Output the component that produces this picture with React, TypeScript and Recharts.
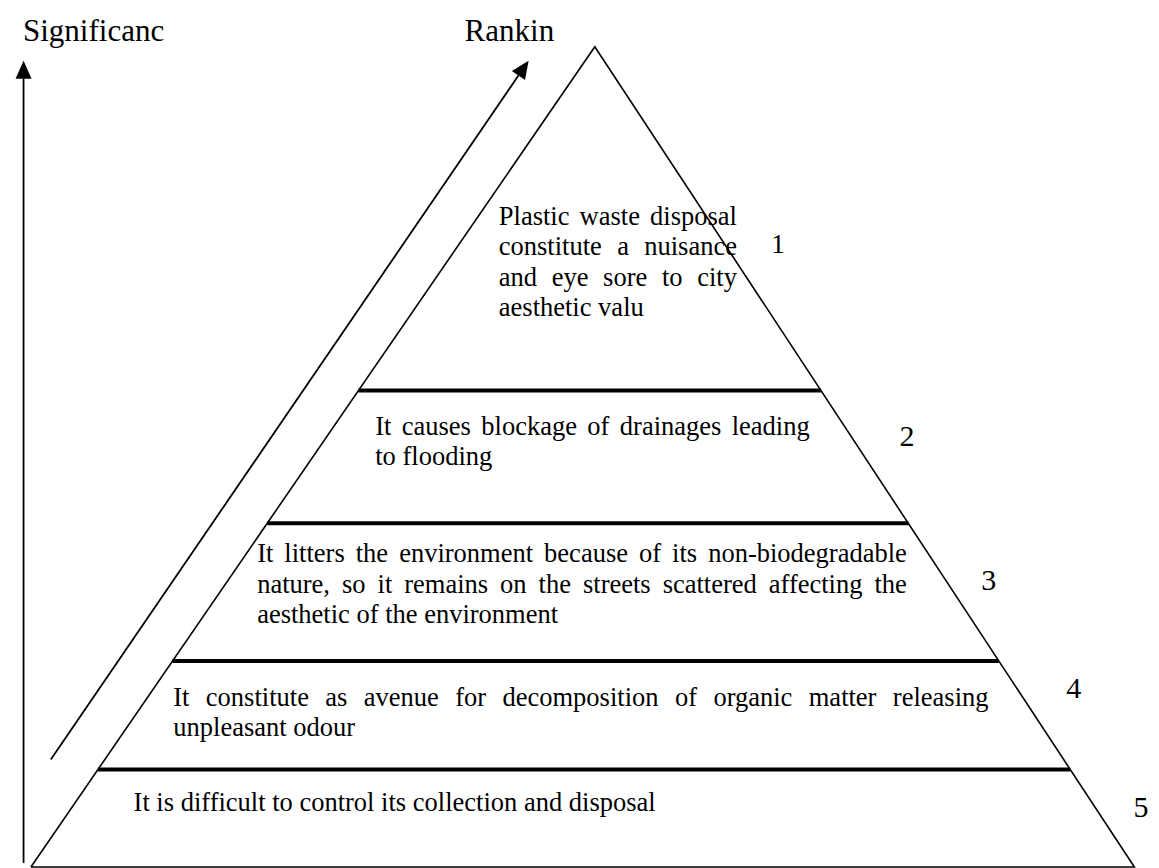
import React from 'react';
import { ComposedChart, XAxis, YAxis, Line, Scatter, ReferenceLine, ReferenceArea } from 'recharts';

// ranking of the effects of plastic waste (1 = most significant, at the top)
const ranks = [1, 2, 3, 4, 5];

const statements = [
  ['Plastic waste disposal', 'constitute a nuisance', 'and eye sore to city', 'aesthetic valu'],
  ['It causes blockage of drainages leading', 'to flooding'],
  [
    'It litters the environment because of its non-biodegradable',
    'nature, so it remains on the streets scattered affecting the',
    'aesthetic of the environment',
  ],
  ['It constitute as avenue for decomposition of organic matter releasing', 'unpleasant odour'],
  ['It is difficult to control its collection and disposal'],
];

const axisTitles = ['Significanc', 'Rankin'];

// pyramid on a 0..100 grid: base from x=0 to x=100 at height 0, apex at height 100
const apexX = 51.1;
const bandEdges = [58.1, 41.9, 25.1, 11.9];

// --- layout (chart units) ---
const textBoxes = [
  { x1: 42.4, x2: 63.8, top: 81.2, bottom: 66.4 },
  { x1: 31.2, x2: 70.4, top: 55.6, bottom: 48.2 },
  { x1: 20.5, x2: 79.2, top: 40.1, bottom: 29.0 },
  { x1: 12.9, x2: 86.6, top: 22.6, bottom: 15.2 },
  { x1: 9.3, x2: 87.4, top: 9.8, bottom: 6.1 },
];
const rankSpots = [
  { x: 67.7, y: 74.9, size: 27 },
  { x: 79.4, y: 51.3, size: 30 },
  { x: 86.8, y: 33.8, size: 30 },
  { x: 94.5, y: 20.6, size: 30 },
  { x: 100.6, y: 6.1, size: 30 },
];
const titleSpots = [
  { x: -0.72, y: 100.7 },
  { x: 39.3, y: 100.7 },
];
const significanceArrow = [{ x: -0.67, y: 0.5 }, { x: -0.67, y: 98.3 }];
const rankingArrow = [{ x: 1.8, y: 13.1 }, { x: 45.1, y: 98.3 }];

const SERIF = "'Liberation Serif', 'Times New Roman', Times, serif";

const outline = [
  { x: 0, y: 0 },
  { x: apexX, y: 100 },
  { x: 100, y: 0 },
  { x: 0, y: 0 },
];

const leftEdgeAt = (h: number) => (apexX * h) / 100;
const rightEdgeAt = (h: number) => 100 - ((100 - apexX) * h) / 100;

const rankData = ranks.map((r, i) => ({ x: rankSpots[i].x, y: rankSpots[i].y, label: String(r), size: rankSpots[i].size }));
const titleData = axisTitles.map((t, i) => ({ x: titleSpots[i].x, y: titleSpots[i].y, label: t }));

function Arrow(props: any) {
  const { x1, y1, x2, y2 } = props;
  const dx = x2 - x1;
  const dy = y2 - y1;
  const len = Math.sqrt(dx * dx + dy * dy) || 1;
  const ux = dx / len;
  const uy = dy / len;
  const head = 18;
  const half = 8;
  const bx = x2 - ux * head;
  const by = y2 - uy * head;
  const pts = `${x2},${y2} ${bx - uy * half},${by + ux * half} ${bx + uy * half},${by - ux * half}`;
  return (
    <g>
      <line x1={x1} y1={y1} x2={bx} y2={by} stroke="#000" strokeWidth={1.8} />
      <polygon points={pts} fill="#000" />
    </g>
  );
}

function TextBlock(props: any) {
  const { viewBox, lines } = props;
  const { x, y, width, height } = viewBox;
  return (
    <foreignObject x={x} y={y} width={width + 2} height={height + 30}>
      <div style={{ fontFamily: SERIF, fontSize: 26.5, lineHeight: '30.5px', color: '#000', margin: 0 }}>
        {lines.map((l: string, i: number) => {
          const just = lines.length > 1 && i < lines.length - 1;
          return (
            <div
              key={i}
              style={{ textAlign: just ? 'justify' : 'left', textAlignLast: just ? 'justify' : 'left' } as any}
            >
              {l}
            </div>
          );
        })}
      </div>
    </foreignObject>
  );
}

export default function App() {
  return (
    <div style={{ width: 1159, height: 868, background: '#fff' }}>
      <style>{'body{margin:0;background:#fff}'}</style>
      <ComposedChart width={1159} height={868} margin={{ top: 41, right: 18, bottom: 1, left: 23 }}>
        <XAxis dataKey="x" type="number" domain={[0, 100]} hide />
        <YAxis dataKey="y" type="number" domain={[0, 100]} hide />

        <Line
          data={outline}
          dataKey="y"
          stroke="#000"
          strokeWidth={1.6}
          dot={false}
          activeDot={false}
          isAnimationActive={false}
        />

        {bandEdges.map((h) => (
          <ReferenceLine
            key={h}
            segment={[{ x: leftEdgeAt(h), y: h }, { x: rightEdgeAt(h), y: h }]}
            stroke="#000"
            strokeWidth={4}
            ifOverflow="visible"
          />
        ))}

        <ReferenceLine segment={significanceArrow} ifOverflow="visible" shape={Arrow} />
        <ReferenceLine segment={rankingArrow} ifOverflow="visible" shape={Arrow} />

        {statements.map((lines, i) => (
          <ReferenceArea
            key={i}
            x1={textBoxes[i].x1}
            x2={textBoxes[i].x2}
            y1={textBoxes[i].bottom}
            y2={textBoxes[i].top}
            fill="none"
            fillOpacity={0}
            stroke="none"
            ifOverflow="visible"
            label={(p: any) => <TextBlock viewBox={p.viewBox} lines={lines} />}
          />
        ))}

        <Scatter
          data={rankData}
          isAnimationActive={false}
          shape={(p: any) => (
            <text x={p.cx} y={p.cy} textAnchor="middle" fontFamily={SERIF} fontSize={p.payload.size} fill="#000">
              {p.payload.label}
            </text>
          )}
        />
        <Scatter
          data={titleData}
          isAnimationActive={false}
          shape={(p: any) => (
            <text x={p.cx} y={p.cy} textAnchor="start" fontFamily={SERIF} fontSize={31} fill="#000">
              {p.payload.label}
            </text>
          )}
        />
      </ComposedChart>
    </div>
  );
}
